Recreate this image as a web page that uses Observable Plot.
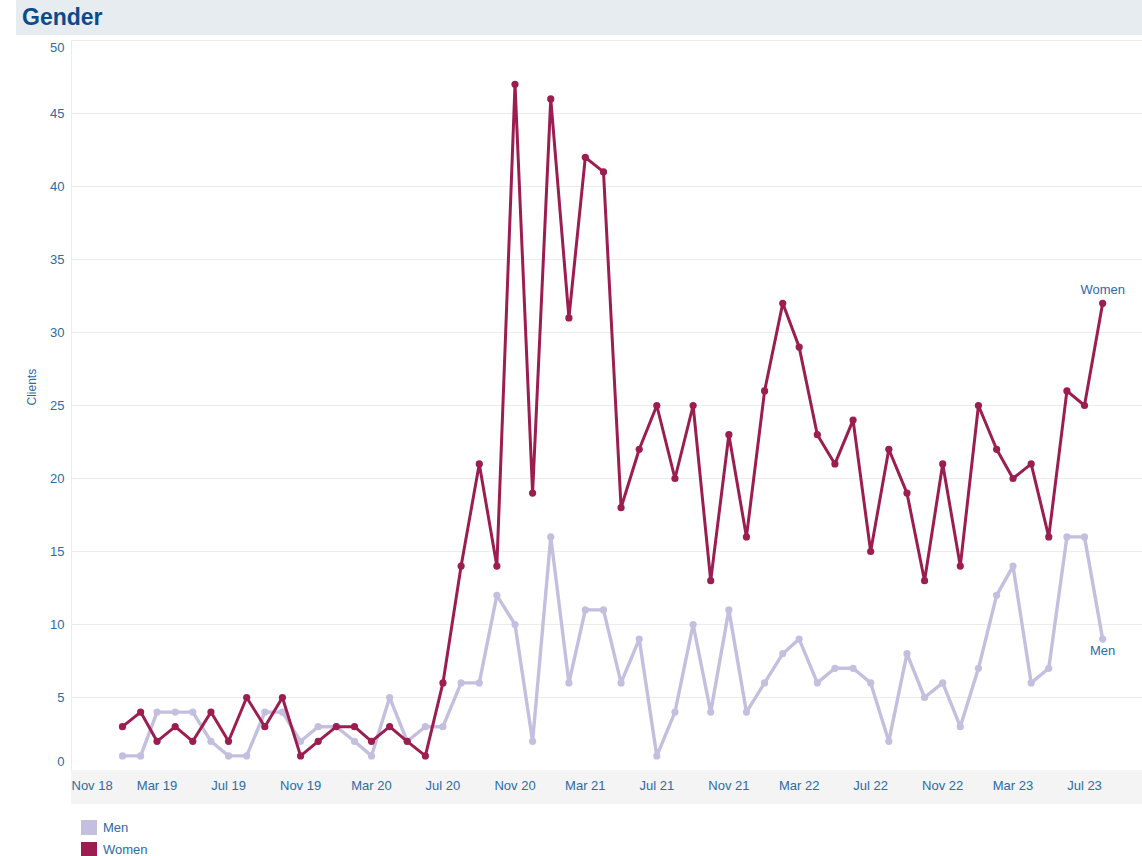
<!DOCTYPE html>
<html>
<head>
<meta charset="utf-8">
<script src="https://cdn.jsdelivr.net/npm/d3@7"></script>
<script src="https://cdn.jsdelivr.net/npm/@observablehq/plot@0.6"></script>
<style>
  html, body { margin: 0; padding: 0; background: #fff; font-family: "Liberation Sans", Arial, sans-serif; }
  #header { position: absolute; left: 16px; top: 0; width: 1126px; height: 35px; background: #e7ecf1; }
  #header span { position: absolute; left: 6px; top: 4px; font-size: 23px; font-weight: bold; color: #0c4a8a; }
  #chart { position: absolute; left: 0; top: 36px; }
  #legend { position: absolute; left: 81px; top: 816px; font-size: 13px; color: #2e6aa3; }
  .item { display: flex; align-items: center; height: 22px; }
  .sw { width: 16px; height: 15px; margin-right: 6px; }
</style>
</head>
<body>
<div id="header"><span>Gender</span></div>
<div id="chart"></div>
<div id="legend"></div>
<script>
const months = ["2019-01","2019-02","2019-03","2019-04","2019-05","2019-06","2019-07","2019-08","2019-09","2019-10","2019-11","2019-12",
  "2020-01","2020-02","2020-03","2020-04","2020-05","2020-06","2020-07","2020-08","2020-09","2020-10","2020-11","2020-12",
  "2021-01","2021-02","2021-03","2021-04","2021-05","2021-06","2021-07","2021-08","2021-09","2021-10","2021-11","2021-12",
  "2022-01","2022-02","2022-03","2022-04","2022-05","2022-06","2022-07","2022-08","2022-09","2022-10","2022-11","2022-12",
  "2023-01","2023-02","2023-03","2023-04","2023-05","2023-06","2023-07","2023-08"];
const women = [3,4,2,3,2,4,2,5,3,5,1,2, 3,3,2,3,2,1,6,14,21,14,47,19, 46,31,42,41,18,22,25,20,25,13,23,16, 26,32,29,23,21,24,15,22,19,13,21,14, 25,22,20,21,16,26,25,32];
const men   = [1,1,4,4,4,2,1,1,4,4,2,3, 3,2,1,5,2,3,3,6,6,12,10,2, 16,6,11,11,6,9,1,4,10,4,11,4, 6,8,9,6,7,7,6,2,8,5,6,3, 7,12,14,6,7,16,16,9];
const xTickLabels = ["2018-11","2019-03","2019-07","2019-11","2020-03","2020-07","2020-11","2021-03","2021-07","2021-11","2022-03","2022-07","2022-11","2023-03","2023-07"];
const yTicks = [0,5,10,15,20,25,30,35,40,45,50];
const series = ["Men","Women"];
const colors = ["#c4bfdf","#9c1d4f"];

const parse = d3.utcParse("%Y-%m");
const fmt = d3.utcFormat("%b %y");
const rows = [];
months.forEach((m,i) => {
  rows.push({date: parse(m), value: men[i], gender: "Men"});
  rows.push({date: parse(m), value: women[i], gender: "Women"});
});
const menRows = rows.filter(r => r.gender === "Men");
const womenRows = rows.filter(r => r.gender === "Women");
const xt = xTickLabels.map(parse);
const d0 = new Date(Date.UTC(2018, 9, 6));
const d1 = new Date(Date.UTC(2023, 9, 8));
const textColor = "#2e6aa3";
const font = "Liberation Sans, Arial, sans-serif";

const plot = Plot.plot({
  width: 1142,
  height: 770,
  marginTop: 4,
  marginBottom: 36,
  marginLeft: 71,
  marginRight: 0,
  style: {fontFamily: font, fontSize: "13px", background: "transparent", overflow: "visible"},
  x: {type: "utc", domain: [d0, d1], axis: null},
  y: {domain: [0, 50], axis: null},
  color: {domain: series, range: colors},
  marks: [
    Plot.rect([{a: d0, b: d1}], {x1: "a", x2: "b", y1: 0, y2: -2.33, fill: "#f4f4f4"}),
    Plot.gridY(yTicks.slice(1), {stroke: "#ececec", strokeOpacity: 1}),
    Plot.ruleX([d0], {y1: 0, y2: 50, stroke: "#ececec"}),
    Plot.line(menRows, {x: "date", y: "value", stroke: colors[0], strokeWidth: 3.4}),
    Plot.dot(menRows, {x: "date", y: "value", fill: colors[0], r: 3.6}),
    Plot.line(womenRows, {x: "date", y: "value", stroke: colors[1], strokeWidth: 3}),
    Plot.dot(womenRows, {x: "date", y: "value", fill: colors[1], r: 3.6}),
    Plot.text(yTicks.slice(1, -1), {x: d0, y: d => d, text: d => String(d), dx: -7, textAnchor: "end", fill: textColor, fontSize: 13}),
    Plot.text([0], {x: d0, y: d => d, text: d => String(d), dx: -7, dy: -9, textAnchor: "end", fill: textColor, fontSize: 13}),
    Plot.text([50], {x: d0, y: d => d, text: d => String(d), dx: -7, dy: 7, textAnchor: "end", fill: textColor, fontSize: 13}),
    Plot.text(xt.slice(1), {x: d => d, frameAnchor: "bottom", text: d => fmt(d), dy: 19, fill: textColor, fontSize: 13}),
    Plot.text(xt.slice(0, 1), {x: d0, frameAnchor: "bottom", text: d => fmt(d), dy: 19, textAnchor: "start", fill: textColor, fontSize: 13}),
    Plot.text(["Clients"], {frameAnchor: "left", dx: -39, rotate: -90, text: d => d, fill: textColor, fontSize: 12}),
    Plot.text(womenRows.slice(-1), {x: "date", y: "value", text: "gender", dy: -13, fill: textColor, fontSize: 13}),
    Plot.text(menRows.slice(-1), {x: "date", y: "value", text: "gender", dy: 12, fill: textColor, fontSize: 13})
  ]
});
document.getElementById("chart").appendChild(plot);

const legend = document.getElementById("legend");
series.forEach((s, i) => {
  const it = document.createElement("div");
  it.className = "item";
  it.innerHTML = `<div class="sw" style="background:${colors[i]}"></div><span>${s}</span>`;
  legend.appendChild(it);
});
</script>
</body>
</html>
